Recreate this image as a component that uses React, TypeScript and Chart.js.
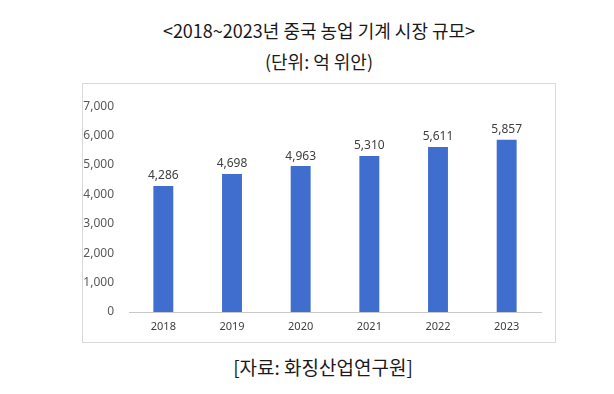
import React, { useEffect, useRef } from "react";
import { Chart, registerables } from "chart.js";

Chart.register(...registerables);

const categories = ["2018", "2019", "2020", "2021", "2022", "2023"];
const marketSize = [4286, 4698, 4963, 5310, 5611, 5857];
const yMin = 0;
const yMax = 7000;
const yStep = 1000;

const titleText = "<2018~2023년 중국 농업 기계 시장 규모>";
const unitText = "(단위: 억 위안)";
const sourceText = "[자료: 화징산업연구원]";

const KR_FONT = '"Noto Sans CJK KR", "Noto Sans", sans-serif';
const NUM_FONT = '"Noto Sans", "Open Sans", sans-serif';

const valueLabels = {
  id: "valueLabels",
  afterDatasetsDraw(chart: any) {
    const ctx = chart.ctx;
    const meta = chart.getDatasetMeta(0);
    ctx.save();
    ctx.font = `12px ${NUM_FONT}`;
    ctx.fillStyle = "#404040";
    ctx.textAlign = "center";
    ctx.textBaseline = "bottom";
    meta.data.forEach((bar: any, i: number) => {
      const v = chart.data.datasets[0].data[i] as number;
      ctx.fillText(v.toLocaleString("en-US"), bar.x, bar.y - 4);
    });
    ctx.restore();
  },
};

export default function App() {
  const ref = useRef<HTMLCanvasElement>(null);
  useEffect(() => {
    if (!ref.current) return;
    const chart = new Chart(ref.current, {
      type: "bar",
      data: {
        labels: categories,
        datasets: [
          {
            data: marketSize,
            backgroundColor: "#3f6ecf",
            barPercentage: 0.29,
            categoryPercentage: 1,
          },
        ],
      },
      options: {
        animation: false,
        responsive: false,
        maintainAspectRatio: false,
        layout: { padding: { top: 22, right: 14, left: 0, bottom: 0 } },
        plugins: {
          legend: { display: false },
          tooltip: { enabled: false },
          title: { display: false },
        },
        scales: {
          x: {
            grid: { display: false, drawTicks: false },
            border: { display: true, color: "#c8c8c8", width: 1, dash: [2, 2] },
            ticks: {
              color: "#404040",
              font: { family: NUM_FONT, size: 11 },
              padding: 8,
            },
            afterFit(scale: any) {
              scale.height = 30;
            },
          },
          y: {
            min: yMin,
            max: yMax,
            grid: { display: false, drawTicks: false },
            border: { display: false },
            ticks: {
              stepSize: yStep,
              color: "#595959",
              padding: 15,
              font: { family: NUM_FONT, size: 12 },
              callback: (v: any) => Number(v).toLocaleString("en-US"),
            },
            afterFit(scale: any) {
              scale.width = 46;
            },
          },
        },
      },
      plugins: [valueLabels],
    });
    return () => chart.destroy();
  }, []);

  return (
    <div
      style={{
        position: "absolute",
        left: 0,
        top: 0,
        width: 614,
        height: 394,
        background: "#fff",
        fontFamily: KR_FONT,
        color: "#1a1a1a",
      }}
    >
      <div
        style={{
          position: "absolute",
          left: 12,
          width: 614,
          top: 17,
          textAlign: "center",
          fontSize: 18,
          lineHeight: "26px",
          whiteSpace: "nowrap",
        }}
      >
        {titleText}
      </div>
      <div
        style={{
          position: "absolute",
          left: 12,
          width: 614,
          top: 48,
          textAlign: "center",
          fontSize: 18,
          lineHeight: "26px",
          whiteSpace: "nowrap",
        }}
      >
        {unitText}
      </div>
      <div
        style={{
          position: "absolute",
          left: 82,
          top: 83,
          width: 472,
          height: 258,
          border: "1px solid #d9d9d9",
        }}
      >
        <canvas ref={ref} width={472} height={258} style={{ display: "block" }} />
      </div>
      <div
        style={{
          position: "absolute",
          left: 16,
          width: 614,
          top: 353,
          textAlign: "center",
          fontSize: 19,
          lineHeight: "28px",
          whiteSpace: "nowrap",
        }}
      >
        {sourceText}
      </div>
    </div>
  );
}
